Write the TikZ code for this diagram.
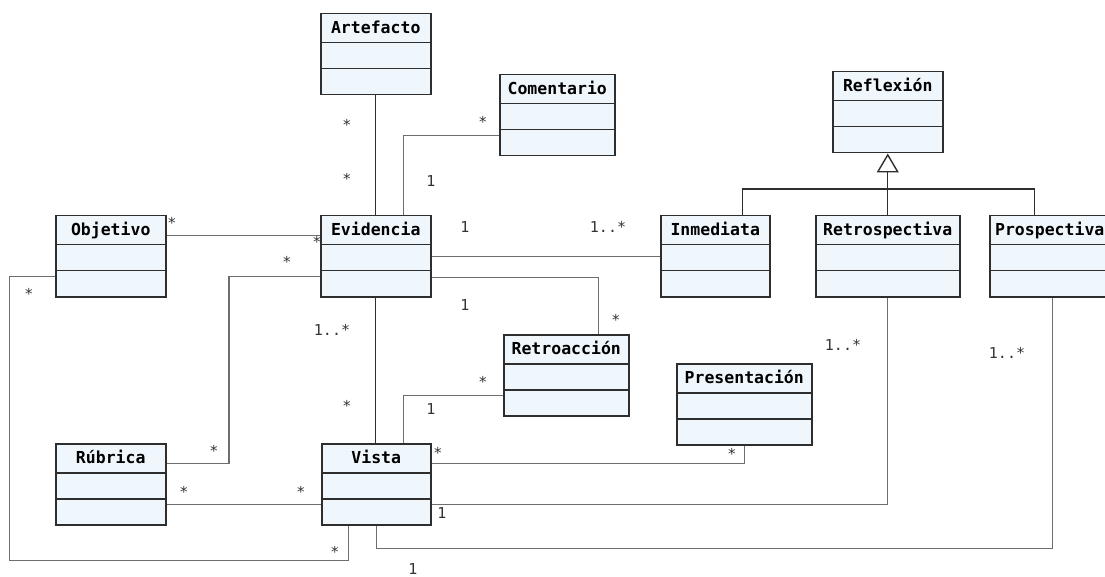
\documentclass[tikz,border=0pt]{standalone}
\usepackage{fontspec}
\setmonofont{DejaVu Sans Mono}
\usetikzlibrary{arrows.meta}

\definecolor{clasefondo}{HTML}{F0F7FC}
\definecolor{claseborde}{HTML}{2E2E2E}
\definecolor{linea}{HTML}{6E6E6E}

\begin{document}
\begin{tikzpicture}[x=1pt, y=-1pt,
  clase/.style={draw=claseborde, fill=clasefondo, line width=1.5pt, anchor=north west,
    minimum height=81pt, inner xsep=2pt, inner ysep=7pt, text height=13pt, text depth=54pt,
    font=\fontsize{16.5}{18}\selectfont\ttfamily\bfseries,
    path picture={
      \draw[claseborde, line width=1.5pt]
        ([yshift=-29pt]path picture bounding box.north west) -- ([yshift=-29pt]path picture bounding box.north east)
        ([yshift=-55pt]path picture bounding box.north west) -- ([yshift=-55pt]path picture bounding box.north east);
    }},
  assoc/.style={draw=linea, line width=1.1pt},
  fuerte/.style={draw=claseborde, line width=1.3pt},
  gen/.style={draw=claseborde, line width=1.4pt},
  mult/.style={font=\fontsize{15}{17}\selectfont\ttfamily, text=black!80,
    inner sep=0pt, text height=11pt, text depth=0pt}
]
\useasboundingbox (0,0) rectangle (1105,577);
\clip (0,0) rectangle (1105,577);

% clases
\node[clase, minimum width=110pt] (artefacto) at (320,13) {Artefacto};
\node[clase, minimum width=115pt] (comentario) at (499,74) {Comentario};
\node[clase, minimum width=110pt] (reflexion) at (832,71) {Reflexión};
\node[clase, minimum width=110pt] (objetivo) at (55,215) {Objetivo};
\node[clase, minimum width=110pt] (evidencia) at (320,215) {Evidencia};
\node[clase, minimum width=109pt] (inmediata) at (660,215) {Inmediata};
\node[clase, minimum width=144pt] (retrospectiva) at (815,215) {Retrospectiva};
\node[clase, minimum width=120pt] (prospectiva) at (989,215) {Prospectiva};
\node[clase, minimum width=125pt] (retroaccion) at (503,334) {Retroacción};
\node[clase, minimum width=135pt] (presentacion) at (676,363) {Presentación};
\node[clase, minimum width=110pt] (rubrica) at (55,443) {Rúbrica};
\node[clase, minimum width=109pt] (vista) at (321,443) {Vista};

% herencia
\draw[gen, -{Triangle[fill=white, length=19pt, width=22pt]}] (retrospectiva.north) -- (reflexion.south);
\draw[gen] ([xshift=27.5pt]inmediata.north) -- ++(0,-26) -| ([xshift=-15pt]prospectiva.north);

% asociaciones
\draw[fuerte] (artefacto.south) -- (evidencia.north);
\draw[assoc] ([xshift=28pt]evidencia.north) |- ([yshift=-20.5pt]comentario.west);
\draw[assoc] ([yshift=20.5pt]objetivo.east) -- ([yshift=20.5pt]evidencia.west);
\draw[assoc] (evidencia.east) -- (inmediata.west);
\draw[assoc] ([yshift=-21.5pt]evidencia.east) -| ([xshift=32.5pt]retroaccion.north);
\draw[fuerte] (evidencia.south) -- (evidencia.south |- vista.north);
\draw[assoc] ([yshift=-20.5pt]evidencia.west) -- ++(-91,0) |- ([yshift=20.5pt]rubrica.east);
\draw[assoc] ([yshift=-20.5pt]retroaccion.west) -| ([xshift=27.5pt]vista.north);
\draw[assoc] ([yshift=20.5pt]vista.east) -| (presentacion.south);
\draw[assoc] ([yshift=-20.5pt]vista.east) -| (retrospectiva.south);
\draw[assoc] (vista.south) -- ++(0,23) -| ([xshift=3pt]prospectiva.south);
\draw[assoc] ([xshift=-27.5pt]vista.south) -- ++(0,35) -- ++(-339,0) |- ([yshift=-20.5pt]objetivo.west);
\draw[assoc] ([yshift=-20.5pt]rubrica.east) -- ([yshift=-20.5pt]vista.west);

% multiplicidades
\node[mult] (m1) at (347,125) {*};
\node[mult] (m2) at (347,179) {*};
\node[mult] (m3) at (483,122) {*};
\node[mult] (m4) at (431,181) {1};
\node[mult] (m5) at (172,223) {*};
\node[mult] (m6) at (317,242) {*};
\node[mult] (m7) at (465,227) {1};
\node[mult] (m8) at (608,227) {1..*};
\node[mult] (m9) at (465,305) {1};
\node[mult] (m10) at (616,320) {*};
\node[mult] (m11) at (332,330) {1..*};
\node[mult] (m12) at (347,406) {*};
\node[mult] (m13) at (287,262) {*};
\node[mult] (m14) at (214,451) {*};
\node[mult] (m15) at (483,382) {*};
\node[mult] (m16) at (431,409) {1};
\node[mult] (m17) at (438,453) {*};
\node[mult] (m18) at (732,454) {*};
\node[mult] (m19) at (442,513) {1};
\node[mult] (m20) at (843,345) {1..*};
\node[mult] (m21) at (413,569) {1};
\node[mult] (m22) at (1007,353) {1..*};
\node[mult] (m23) at (335,552) {*};
\node[mult] (m24) at (29,294) {*};
\node[mult] (m25) at (184,492) {*};
\node[mult] (m26) at (301,492) {*};
\end{tikzpicture}
\end{document}
